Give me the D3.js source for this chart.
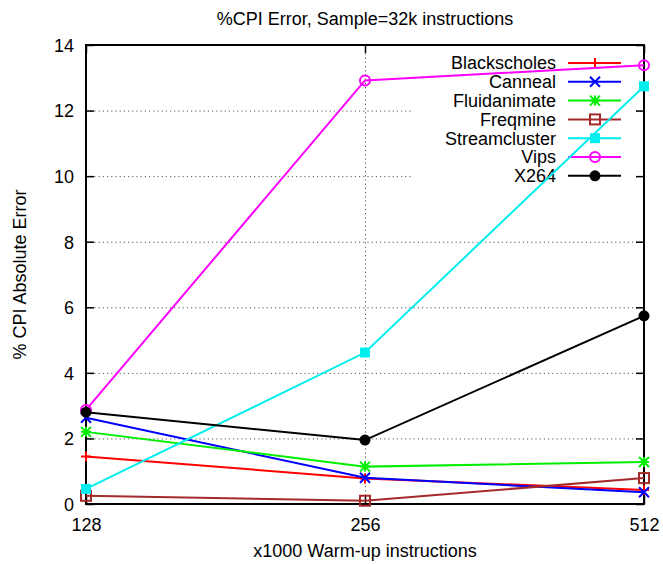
<!DOCTYPE html>
<meta charset="utf-8">
<html>
<head>
<style>
  body { margin: 0; background: #fff; }
  text { font-family: "Liberation Sans", Arial, sans-serif; }
</style>
</head>
<body>
<script src="https://d3js.org/d3.v7.min.js"></script>
<div id="my_dataviz"></div>

<script>
// data
var warmup = [128, 256, 512];
var names = ["Blackscholes", "Canneal", "Fluidanimate", "Freqmine", "Streamcluster", "Vips", "X264"];
var blackscholes = [1.45, 0.78, 0.43];
var canneal = [2.63, 0.80, 0.36];
var fluidanimate = [2.20, 1.14, 1.28];
var freqmine = [0.25, 0.10, 0.79];
var streamcluster = [0.46, 4.62, 12.74];
var vips = [2.87, 12.92, 13.38];
var x264 = [2.80, 1.95, 5.74];
var yTicks = [0, 2, 4, 6, 8, 10, 12, 14];

var allSeries = [blackscholes, canneal, fluidanimate, freqmine, streamcluster, vips, x264];
var colors = ["#ff0000", "#0000ff", "#00ee00", "#a52a2a", "#00eeee", "#ff00ff", "#000000"];
var markers = ["plus", "cross", "star", "box", "fbox", "circle", "fcircle"];

// dimensions
var W = 663, H = 564;
var margin = {top: 45, right: 19, bottom: 60, left: 86},
    width = W - margin.left - margin.right,
    height = H - margin.top - margin.bottom;

var svg = d3.select("#my_dataviz")
  .append("svg")
    .attr("width", W)
    .attr("height", H);

var g = svg.append("g")
    .attr("transform", "translate(" + margin.left + "," + margin.top + ")");

var x = d3.scaleLog().base(2)
    .domain([128, 512])
    .range([0, width]);

var y = d3.scaleLinear()
    .domain([0, 14])
    .range([height, 0]);

// grid (dotted)
g.append("g")
    .attr("class", "grid")
    .call(d3.axisLeft(y).tickValues(yTicks.filter(function(d) { return d > 0 && d < 14; }))
      .tickSize(-width).tickFormat(""))
    .call(function(s) { s.select(".domain").remove(); })
    .selectAll("line")
      .attr("stroke", "#555")
      .attr("stroke-dasharray", "1.2,3");

g.append("g")
    .attr("class", "grid")
    .attr("transform", "translate(0," + height + ")")
    .call(d3.axisBottom(x).tickValues([256]).tickSize(-height).tickFormat(""))
    .call(function(s) { s.select(".domain").remove(); })
    .selectAll("line")
      .attr("stroke", "#555")
      .attr("stroke-dasharray", "1.2,3");

// ticks and labels
var leftAxis = g.append("g")
    .call(d3.axisLeft(y).tickValues(yTicks).tickSize(-8).tickPadding(12));
var rightAxis = g.append("g")
    .attr("transform", "translate(" + width + ",0)")
    .call(d3.axisRight(y).tickValues(yTicks).tickSize(-8).tickFormat(""));
var bottomAxis = g.append("g")
    .attr("transform", "translate(0," + height + ")")
    .call(d3.axisBottom(x).tickValues(warmup).tickSize(-8).tickPadding(14)
      .tickFormat(d3.format("d")));
var topAxis = g.append("g")
    .call(d3.axisTop(x).tickValues(warmup).tickSize(-8).tickFormat(""));

[leftAxis, rightAxis, bottomAxis, topAxis].forEach(function(a) {
  a.select(".domain").remove();
  a.selectAll("line").attr("stroke", "#000").attr("stroke-width", 1.5);
  a.selectAll("text").style("font-size", "18px").attr("fill", "#000")
    .style("font-family", "'Liberation Sans', Arial, sans-serif");
});
leftAxis.selectAll("text").attr("dy", "0.35em");
bottomAxis.selectAll("text").attr("dy", "0.71em");

// border
g.append("rect")
    .attr("width", width)
    .attr("height", height)
    .attr("fill", "none")
    .attr("stroke", "#000")
    .attr("stroke-width", 2);

// titles
svg.append("text")
    .attr("x", margin.left + width / 2)
    .attr("y", 25)
    .attr("text-anchor", "middle")
    .style("font-size", "18px")
    .text("%CPI Error, Sample=32k instructions");

svg.append("text")
    .attr("x", margin.left + width / 2)
    .attr("y", 557)
    .attr("text-anchor", "middle")
    .style("font-size", "18px")
    .text("x1000 Warm-up instructions");

svg.append("text")
    .attr("transform", "translate(26," + (margin.top + height / 2) + ") rotate(-90)")
    .attr("text-anchor", "middle")
    .style("font-size", "18px")
    .text("% CPI Absolute Error");

// marker drawing
function drawMarker(sel, type, color) {
  var s = 5;
  if (type == "plus" || type == "star") {
    sel.append("path").attr("d", "M" + (-s) + ",0H" + s + "M0," + (-s) + "V" + s)
      .attr("stroke", color).attr("stroke-width", 2).attr("fill", "none");
  }
  if (type == "cross" || type == "star") {
    sel.append("path").attr("d", "M" + (-s) + "," + (-s) + "L" + s + "," + s + "M" + (-s) + "," + s + "L" + s + "," + (-s))
      .attr("stroke", color).attr("stroke-width", 2).attr("fill", "none");
  }
  if (type == "box") {
    sel.append("rect").attr("x", -s).attr("y", -s).attr("width", 2 * s).attr("height", 2 * s)
      .attr("stroke", color).attr("stroke-width", 2).attr("fill", "none");
  }
  if (type == "fbox") {
    sel.append("rect").attr("x", -s).attr("y", -s).attr("width", 2 * s).attr("height", 2 * s)
      .attr("fill", color);
  }
  if (type == "circle") {
    sel.append("circle").attr("r", s).attr("stroke", color).attr("stroke-width", 2).attr("fill", "none");
  }
  if (type == "fcircle") {
    sel.append("circle").attr("r", s + 0.5).attr("fill", color);
  }
}

// legend (white box hides the grid)
var legend = g.append("g")
    .attr("transform", "translate(" + (556 - margin.left) + "," + (63 - margin.top) + ")");
legend.append("rect")
    .attr("x", -145).attr("y", -11)
    .attr("width", 225).attr("height", 133)
    .attr("fill", "#fff");

names.forEach(function(name, i) {
  var row = legend.append("g").attr("transform", "translate(0," + (i * 18.8) + ")");
  row.append("text")
    .attr("text-anchor", "end")
    .attr("dy", "0.35em")
    .style("font-size", "18px")
    .text(name);
  row.append("line")
    .attr("x1", 12).attr("x2", 65)
    .attr("stroke", colors[i]).attr("stroke-width", 2);
  drawMarker(row.append("g").attr("transform", "translate(39,0)"), markers[i], colors[i]);
});

// lines
var line = d3.line()
    .x(function(d, i) { return x(warmup[i]); })
    .y(function(d) { return y(d); });

allSeries.forEach(function(vals, i) {
  g.append("path")
    .datum(vals)
    .attr("d", line)
    .attr("fill", "none")
    .attr("stroke", colors[i])
    .attr("stroke-width", 2);
  vals.forEach(function(v, j) {
    drawMarker(g.append("g").attr("transform", "translate(" + x(warmup[j]) + "," + y(v) + ")"),
      markers[i], colors[i]);
  });
});
</script>
</body>
</html>
